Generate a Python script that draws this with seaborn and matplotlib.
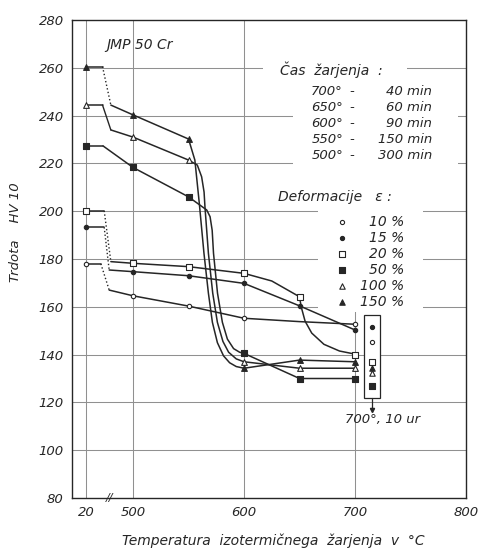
import numpy as np
import pandas as pd
import matplotlib
matplotlib.use("Agg")
import matplotlib.pyplot as plt
from matplotlib.patches import Rectangle
import seaborn as sns

sns.set_theme(style="white")
plt.rcParams["font.family"] = ["DejaVu Sans"]

# ---------------- data ----------------
deformations = ["10 %", "15 %", "20 %", "50 %", "100 %", "150 %"]
temps = [20, 500, 550, 600, 650, 700]
hv_10 = [178.0, 164.6, 160.3, 155.2, np.nan, 152.7]
hv_15 = [193.3, 174.7, 173.0, 169.8, 160.4, 150.3]
hv_20 = [200.2, 178.2, 176.8, 174.0, 164.2, 140.0]
hv_50 = [227.3, 218.3, 206.0, 140.5, 130.0, 130.0]
hv_100 = [244.4, 231.0, 221.4, 137.0, 134.3, 134.3]
hv_150 = [260.5, 240.3, 230.2, 134.3, 137.7, 137.0]

# drawn curve shapes
c10_x = [478.5, 500, 550, 600, 650, 700]
c10_y = [167.0, 164.6, 160.3, 155.2, 153.8, 152.7]
c15_x = [478.5, 500, 550, 600, 650, 700]
c15_y = [175.4, 174.7, 173.0, 169.8, 160.4, 150.3]
c20_x = [480, 500, 550, 600, 625, 650, 651.5, 655, 661, 672, 686, 700]
c20_y = [178.9, 178.2, 176.8, 174.0, 170.8, 164.2, 160.0, 154.0, 149.0, 144.3, 141.5, 140.2]
c50_x = [473, 500, 550, 566.4, 569.4, 571.3, 572.5, 576.1, 580.5, 585, 590.6, 596, 600, 650, 700]
c50_y = [227.3, 218.3, 206.0, 200.5, 197.7, 192.0, 182.4, 165.7, 153.5, 146.5, 142.5, 141.0, 140.5, 130.0, 130.0]
c100_x = [480, 500, 550, 557.9, 561.8, 564.0, 564.8, 567.9, 571.8, 576, 581, 586.1, 593, 600, 650, 700]
c100_y = [234.0, 231.0, 221.4, 219.3, 214.4, 208.0, 201.8, 182.4, 165.7, 153.5, 145.5, 141.0, 138.2, 137.0, 134.3, 134.3]
c150_x = [480, 500, 550, 555.7, 559.7, 563.9, 567.9, 571.5, 576, 581.5, 587, 593, 600, 650, 700]
c150_y = [244.4, 240.3, 230.2, 221.4, 203.3, 182.4, 165.7, 153.5, 145.0, 139.5, 136.6, 135.0, 134.3, 137.7, 137.0]

flat_end = [471, 474, 474, 473, 472.5, 472.5]
dotted_drop = [True, True, True, False, False, True]

# annealing 700 °C, 10 h
box_hv = [145.4, 151.7, 137.0, 126.9, 132.3, 134.3]

anneal_temps = ["700°", "650°", "600°", "550°", "500°"]
anneal_times = ["40 min", "60 min", "90 min", "150 min", "300 min"]

x_ticklabels = ["20", "500", "600", "700", "800"]
y_ticks = [80, 100, 120, 140, 160, 180, 200, 220, 240, 260, 280]

# ---------------- styles ----------------
INK = "#262626"
GRID = "#909090"
X20 = 458  # axis position used for 20 °C (broken axis)
markers = ["o", "o", "s", "s", "^", "^"]
filled = [False, True, False, True, False, True]
msize = [10, 10, 17, 17, 17, 17]

hv_all = [hv_10, hv_15, hv_20, hv_50, hv_100, hv_150]
cx_all = [c10_x, c15_x, c20_x, c50_x, c100_x, c150_x]
cy_all = [c10_y, c15_y, c20_y, c50_y, c100_y, c150_y]


def xpos(t):
    return X20 if t == 20 else t


fig = plt.figure(figsize=(4.79, 5.49), dpi=100)
fig.patch.set_facecolor("white")
ax = fig.add_axes([72 / 479, 51 / 549, 394 / 479, 478 / 549])
ax.set_xlim(445, 800)
ax.set_ylim(80, 280)

# grid
for t in [X20, 500, 600, 700]:
    ax.axvline(t, color=GRID, lw=0.75, zorder=0.5)
for v in y_ticks[1:-1]:
    ax.axhline(v, color=GRID, lw=0.75, zorder=0.5)


def fx(px):
    return (px - 72) / 394


def fy(py):
    return (498 - py) / 478


# white panels behind the text blocks (grid interrupted)
for (x0, x1, y0, y1) in [(263, 407, 21, 88), (293, 458, 80, 190), (318, 423, 185, 312)]:
    ax.add_patch(Rectangle((fx(x0), fy(y1)), fx(x1) - fx(x0), fy(y0) - fy(y1),
                           transform=ax.transAxes, facecolor="white",
                           edgecolor="none", zorder=1))

# curves
for i, name in enumerate(deformations):
    v0 = hv_all[i][0]
    flat = pd.DataFrame({"x": [X20, flat_end[i]], "y": [v0, v0]})
    sns.lineplot(data=flat, x="x", y="y", color=INK, lw=1.1, ax=ax,
                 estimator=None, sort=False, zorder=3)
    conn = pd.DataFrame({"x": [flat_end[i], cx_all[i][0]], "y": [v0, cy_all[i][0]]})
    sns.lineplot(data=conn, x="x", y="y", color=INK, lw=1.0, ax=ax,
                 estimator=None, sort=False, zorder=3,
                 linestyle=":" if dotted_drop[i] else "-")
    curve = pd.DataFrame({"x": cx_all[i], "y": cy_all[i]})
    sns.lineplot(data=curve, x="x", y="y", color=INK, lw=1.1, ax=ax,
                 estimator=None, sort=False, zorder=3)
    pts = pd.DataFrame({"x": [xpos(t) for t in temps], "y": hv_all[i]}).dropna()
    sns.scatterplot(data=pts, x="x", y="y", marker=markers[i], s=msize[i],
                    facecolor=INK if filled[i] else "white", edgecolor=INK,
                    linewidth=0.8, ax=ax, zorder=4)

# 700 °C, 10 h box
box_x0, box_x1 = 708.4, 722.8
ax.add_patch(Rectangle((box_x0, 121.8), box_x1 - box_x0, 156.6 - 121.8,
                       facecolor="white", edgecolor=INK, lw=0.9, zorder=3))
bx = (box_x0 + box_x1) / 2
for i in range(6):
    sns.scatterplot(x=[bx], y=[box_hv[i]], marker=markers[i], s=msize[i] * 0.9,
                    facecolor=INK if filled[i] else "white", edgecolor=INK,
                    linewidth=0.8, ax=ax, zorder=4)
ax.plot([bx, bx], [121.8, 116.8], color=INK, lw=0.9, zorder=3)
ax.plot([bx], [116.8], marker="v", ms=3, color=INK, zorder=3)
ax.text(724.5, 113.0, "700°, 10 ur", ha="center", va="center", fontsize=9.5,
        style="italic", color=INK, zorder=5)

# texts
ax.text(fx(106), fy(45), "JMP 50 Cr", ha="left", va="center", fontsize=10,
        style="italic", color=INK, transform=ax.transAxes, zorder=5)
ax.text(fx(280), fy(70), "Čas  žarjenja  :", ha="left", va="center", fontsize=10,
        style="italic", color=INK, transform=ax.transAxes, zorder=5)
for k in range(5):
    yy = fy(91.5 + k * 15.9)
    ax.text(fx(343), yy, anneal_temps[k], ha="right", va="center", fontsize=9.5,
            style="italic", color=INK, transform=ax.transAxes, zorder=5)
    ax.text(fx(352), yy, "-", ha="center", va="center", fontsize=9.5,
            style="italic", color=INK, transform=ax.transAxes, zorder=5)
    ax.text(fx(432), yy, anneal_times[k], ha="right", va="center", fontsize=9.5,
            style="italic", color=INK, transform=ax.transAxes, zorder=5)
ax.text(fx(278), fy(197), "Deformacije   ε :", ha="left", va="center", fontsize=10,
        style="italic", color=INK, transform=ax.transAxes, zorder=5)
for k in range(6):
    yy = fy(221.5 + k * 16.1)
    ax.scatter([fx(342)], [yy], marker=markers[k], s=msize[k] * 0.9,
               facecolor=INK if filled[k] else "white", edgecolor=INK,
               linewidth=0.8, transform=ax.transAxes, zorder=5)
    ax.text(fx(404), yy, deformations[k], ha="right", va="center", fontsize=10,
            style="italic", color=INK, transform=ax.transAxes, zorder=5)

# axis break mark
ax.text(479, 80, "//", ha="center", va="center", fontsize=8, style="italic",
        color=INK, clip_on=False, zorder=6)

# axes
ax.set_xticks([X20, 500, 600, 700, 800])
ax.set_xticklabels(x_ticklabels)
ax.set_yticks(y_ticks)
ax.set_yticklabels([str(v) for v in y_ticks])
for lab in ax.get_xticklabels() + ax.get_yticklabels():
    lab.set_fontstyle("italic")
    lab.set_color(INK)
ax.tick_params(axis="both", length=0, labelsize=9.5, pad=6)
ax.set_xlabel("Temperatura  izotermičnega  žarjenja  v  °C", fontsize=10,
              style="italic", color=INK)
ax.set_ylabel("Trdota    HV 10", fontsize=9.5, style="italic", color=INK)
ax.yaxis.set_label_coords(-0.127, 0.556)
ax.xaxis.set_label_coords(0.51, -0.075)
for s in ax.spines.values():
    s.set_color(INK)
    s.set_linewidth(1.0)
ax.set_facecolor("white")

fig.savefig("out.png", dpi=100, facecolor="white")
